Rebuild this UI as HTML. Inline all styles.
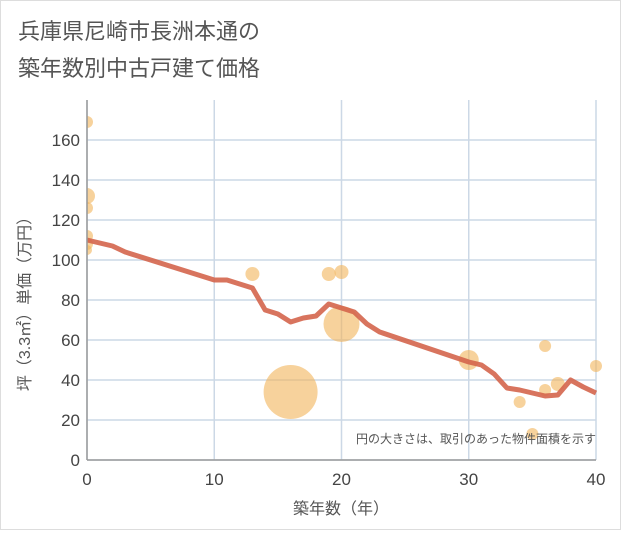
<!DOCTYPE html>
<html><head><meta charset="utf-8"><style>
body{margin:0;background:#fff}
svg text{font-family:"Liberation Sans","Noto Sans CJK JP",sans-serif}
</style></head><body>
<svg width="621" height="530">
<defs><clipPath id="plotclip"><rect x="87" y="95" width="515" height="366"/></clipPath></defs>
<rect x="0.5" y="0.5" width="620" height="529" fill="#fff" stroke="#ddd"/>
<text x="18" y="39" font-size="22" fill="#555">兵庫県尼崎市長洲本通の</text>
<text x="18" y="76" font-size="22" fill="#555">築年数別中古戸建て価格</text>
<g id="grid"></g>
<g id="bubbles" clip-path="url(#plotclip)"></g>
<path id="line" fill="none" stroke="#d4654c" stroke-opacity="0.9" stroke-width="5" stroke-linejoin="round"/>
<g id="axes"></g>
<text x="596" y="443" font-size="12" fill="#555" text-anchor="end">円の大きさは、取引のあった物件面積を示す</text>
<text x="341" y="514" font-size="16" fill="#555" text-anchor="middle">築年数（年）</text>
<text transform="translate(30,300) rotate(-90)" font-size="16" fill="#555" text-anchor="middle">坪（3.3㎡）単価（万円）</text>
</svg>
<script>
const xTicks=[0,10,20,30,40];
const yTicks=[0,20,40,60,80,100,120,140,160];
const lineYears=[0,2,3,10,11,13,14,15,16,17,18,19,20,21,22,23,30,31,32,33,34,35,36,37,38,39,40];
const lineValues=[110,107,104,90,90,86,75,73,69,71,72,78,76,74,68,64,49,47.5,43,36,35,33.5,32,32.5,40,36.5,33.5];
const bubbleYears=[0,0,0,0,0,0,13,19,20,20,16,30,34,35,36,36,37,40];
const bubbleValues=[169,132,126,112,108,105,93,93,94,68,34,50,29,13,57,35,38,47];
const bubbleSizes=[6,8,6,6,6,5,7,7,7,18,27,10,6,6,6,6,7,6];
const NS="http://www.w3.org/2000/svg";
const X=v=>87+v*(509/40), Y=v=>460-v*2;
function mk(t,a,p){const e=document.createElementNS(NS,t);for(const k in a)e.setAttribute(k,a[k]);p.appendChild(e);return e;}
const g=document.getElementById('grid'),ax=document.getElementById('axes'),b=document.getElementById('bubbles');
yTicks.forEach(v=>{const l=mk('line',{x1:87,x2:596,y1:Y(v),y2:Y(v),stroke:'#ccd8e6','stroke-width':1.5},g);

const t=mk('text',{x:80,y:Y(v)+6,'font-size':17,fill:'#444','text-anchor':'end'},ax);t.textContent=v;
});
xTicks.forEach(v=>{const l=mk('line',{x1:X(v),x2:X(v),y1:100,y2:460,stroke:'#ccd8e6','stroke-width':1.5},g);

const t=mk('text',{x:X(v),y:485,'font-size':17,fill:'#444','text-anchor':'middle'},ax);t.textContent=v;
});
const a1=mk('line',{x1:87,x2:87,y1:100,y2:460,stroke:'#999','stroke-width':1.5},ax);

const a2=mk('line',{x1:87,x2:596,y1:460,y2:460,stroke:'#999','stroke-width':1.5},ax);

bubbleYears.forEach((yr,i)=>{const c=mk('circle',{cx:X(yr),cy:Y(bubbleValues[i]),r:bubbleSizes[i],fill:'#f2b45a','fill-opacity':0.6},b);
});
document.getElementById('line').setAttribute('d',lineYears.map((yr,i)=>(i?'L':'M')+X(yr)+','+Y(lineValues[i])).join(''));
</script>
</body></html>
